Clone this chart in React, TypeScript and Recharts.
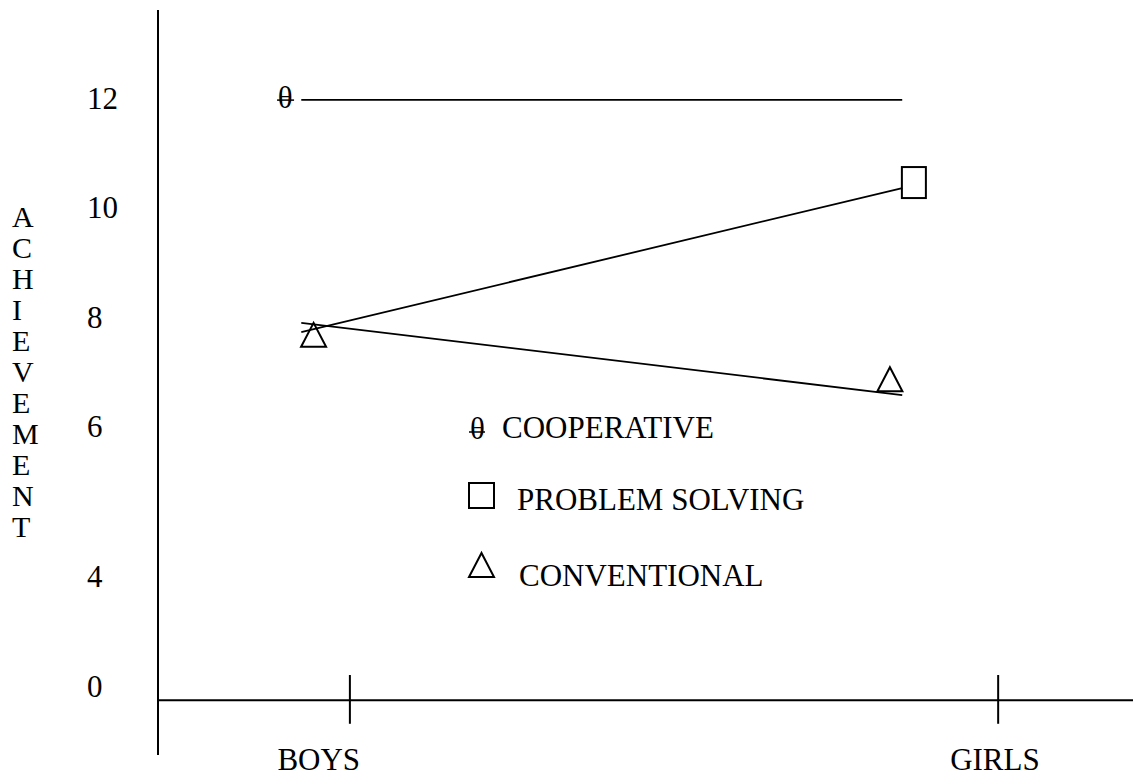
import { ComposedChart, Line, Scatter, XAxis, YAxis, ReferenceLine, Legend } from 'recharts';

const FONT = "'Liberation Serif', 'Times New Roman', Tinos, 'DejaVu Serif', serif";
const INK = '#000';
const TEXT_STYLE = { fontFamily: FONT, fontSize: 31 };

// groups on the x axis and where their tick marks / labels sit
const GROUPS = ['BOYS', 'GIRLS'];
const GROUP_X = [1, 2];
const GROUP_LABEL_X = [0.952, 1.995];

// the drawn lines run from just left of BOYS to just left of GIRLS
const LINE_X = [0.925, 1.852];
const COOPERATIVE = [11.96, 11.96];
const PROBLEM_SOLVING = [7.72, 10.35];
const CONVENTIONAL = [7.89, 6.57];

// symbols drawn next to the lines
const COOPERATIVE_MARKS = [{ x: 0.9, y: 12.01 }];
const PROBLEM_SOLVING_MARKS = [{ x: 1.87, y: 10.45 }];
const CONVENTIONAL_MARKS = [
  { x: 0.944, y: 7.67 },
  { x: 1.833, y: 6.86 },
];

// y labels and where they are written on the scale
const Y_TICKS = [12, 10, 8, 6, 3.27, 1.26];
const Y_LABELS = ['12', '10', '8', '6', '4', '0'];
const Y_TITLE = 'ACHIEVEMENT';
const X_AXIS_AT = 1.0;
const X_TICK_SPAN = [0.57, 1.46];

const SERIES = ['COOPERATIVE', 'PROBLEM SOLVING', 'CONVENTIONAL'];

const toPoints = (vals: number[]) => LINE_X.map((x, i) => ({ x, y: vals[i] }));

const Theta = (props: any) => {
  const { cx, cy } = props;
  return (
    <g>
      <text x={cx} y={cy + 11} textAnchor="middle" style={TEXT_STYLE} fill={INK}>
        θ
      </text>
      <line x1={cx - 8} x2={cx + 9} y1={cy + 3} y2={cy + 3} stroke={INK} strokeWidth={1.5} />
    </g>
  );
};

const Box = (props: any) => {
  const { cx, cy } = props;
  return <rect x={cx - 12} y={cy - 15.5} width={24} height={31} fill="none" stroke={INK} strokeWidth={2} />;
};

const Tri = (props: any) => {
  const { cx, cy } = props;
  return (
    <polygon
      points={`${cx},${cy - 12} ${cx - 12.5},${cy + 12} ${cx + 12.5},${cy + 12}`}
      fill="none"
      stroke={INK}
      strokeWidth={2}
    />
  );
};

const YTitle = () => (
  <text x={12} y={227} style={{ fontFamily: FONT, fontSize: 30 }} fill={INK}>
    {Y_TITLE.split('').map((ch, i) => (
      <tspan key={i} x={12} dy={i === 0 ? 0 : 31}>
        {ch}
      </tspan>
    ))}
  </text>
);

const GroupTick = (props: any) => {
  const { x, y, payload } = props;
  const idx = GROUP_LABEL_X.indexOf(payload.value);
  return (
    <text x={x} y={y + 15} textAnchor="middle" style={TEXT_STYLE} fill={INK}>
      {GROUPS[idx]}
    </text>
  );
};

const LegendBox = () => (
  <svg width={420} height={200} style={{ display: 'block' }}>
    <text x={10} y={39} style={TEXT_STYLE} fill={INK}>θ</text>
    <line x1={9} x2={25} y1={32} y2={32} stroke={INK} strokeWidth={1.5} />
    <text x={42} y={38} style={TEXT_STYLE} fill={INK}>{SERIES[0]}</text>

    <rect x={9} y={83} width={25} height={25} fill="none" stroke={INK} strokeWidth={2} />
    <text x={57} y={110} style={TEXT_STYLE} fill={INK}>{SERIES[1]}</text>

    <polygon points="21.5,153 9,177 34,177" fill="none" stroke={INK} strokeWidth={2} />
    <text x={59} y={186} style={TEXT_STYLE} fill={INK}>{SERIES[2]}</text>
  </svg>
);

export default function App() {
  return (
    <div style={{ position: 'absolute', left: 0, top: 0, width: 1135, height: 776, background: '#fff', fontFamily: FONT }}>
      <ComposedChart width={1135} height={776} margin={{ top: 10, right: 2, bottom: 0, left: 0 }}>
        <XAxis
          type="number"
          dataKey="x"
          domain={[0.704, 2.208]}
          allowDataOverflow
          ticks={GROUP_LABEL_X}
          interval={0}
          axisLine={false}
          tickLine={false}
          tickSize={0}
          tickMargin={0}
          height={21}
          tick={<GroupTick />}
        />
        <YAxis
          type="number"
          dataKey="y"
          domain={[0, 13.6]}
          allowDataOverflow
          ticks={Y_TICKS}
          interval={0}
          width={158}
          tickLine={false}
          tickSize={0}
          tickMargin={71}
          axisLine={{ stroke: INK, strokeWidth: 2 }}
          tick={{ fill: INK, fontSize: 31, fontFamily: FONT, textAnchor: 'start', style: TEXT_STYLE }}
          tickFormatter={(v: number) => Y_LABELS[Y_TICKS.indexOf(v)]}
          label={<YTitle />}
        />
        <ReferenceLine y={X_AXIS_AT} stroke={INK} strokeWidth={2} />
        {GROUP_X.map((gx) => (
          <ReferenceLine
            key={gx}
            segment={[
              { x: gx, y: X_TICK_SPAN[0] },
              { x: gx, y: X_TICK_SPAN[1] },
            ]}
            stroke={INK}
            strokeWidth={2}
          />
        ))}
        <Line data={toPoints(COOPERATIVE)} dataKey="y" name={SERIES[0]} stroke={INK} strokeWidth={1.8} dot={false} isAnimationActive={false} />
        <Line data={toPoints(PROBLEM_SOLVING)} dataKey="y" name={SERIES[1]} stroke={INK} strokeWidth={1.8} dot={false} isAnimationActive={false} />
        <Line data={toPoints(CONVENTIONAL)} dataKey="y" name={SERIES[2]} stroke={INK} strokeWidth={1.8} dot={false} isAnimationActive={false} />
        <Scatter data={COOPERATIVE_MARKS} dataKey="y" shape={Theta} isAnimationActive={false} />
        <Scatter data={PROBLEM_SOLVING_MARKS} dataKey="y" shape={Box} isAnimationActive={false} />
        <Scatter data={CONVENTIONAL_MARKS} dataKey="y" shape={Tri} isAnimationActive={false} />
        <Legend
          layout="vertical"
          align="center"
          verticalAlign="middle"
          content={<LegendBox />}
          wrapperStyle={{ left: 460, top: 400, width: 420 }}
        />
      </ComposedChart>
    </div>
  );
}
